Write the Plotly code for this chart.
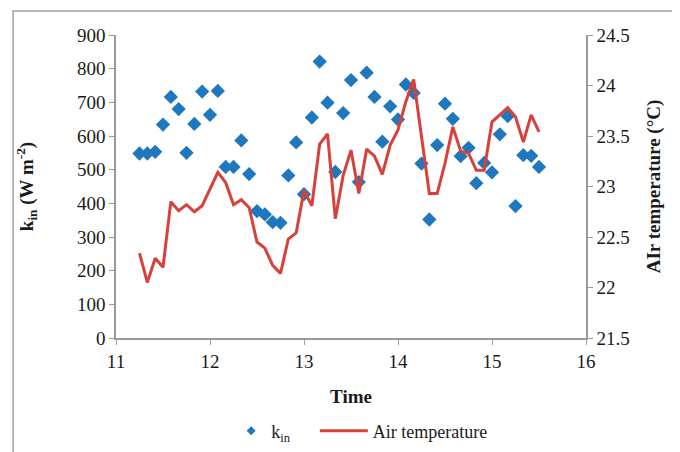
import plotly.graph_objects as go

time = [11.25 + i * 5 / 60 for i in range(52)]
time = [round(t, 4) for t in time]

k_in = [548, 548, 553, 634, 716, 680, 550, 636, 732, 663,
        734, 508, 508, 587, 487, 377, 367, 344, 342, 483,
        581, 427, 655, 821, 699, 493, 668, 766, 463, 788,
        716, 583, 688, 649, 753, 728, 518, 352, 573, 696,
        651, 540, 565, 460, 520, 492, 605, 659, 392, 543,
        541, 508]

air_temp = [22.34, 22.05, 22.29, 22.20, 22.85, 22.76, 22.82, 22.75, 22.81, 22.97,
            23.14, 23.04, 22.82, 22.87, 22.79, 22.45, 22.39, 22.22, 22.14, 22.48,
            22.54, 22.96, 22.81, 23.42, 23.52, 22.68, 23.11, 23.36, 22.93, 23.37,
            23.30, 23.12, 23.41, 23.56, 23.84, 24.06, 23.50, 22.93, 22.93, 23.23,
            23.59, 23.35, 23.33, 23.16, 23.16, 23.64, 23.71, 23.78, 23.69, 23.44,
            23.71, 23.54]

FONT = "Liberation Serif"
AXC = "#9a9a9a"
BLUE = "#1f78bd"
RED = "#d9403a"

fig = go.Figure()
fig.add_trace(go.Scatter(
    x=time, y=k_in, mode="markers", name="k<sub>in</sub>", showlegend=False,
    marker=dict(symbol="diamond", size=11, color=BLUE),
    yaxis="y"))
fig.add_trace(go.Scatter(
    x=time, y=air_temp, mode="lines", name="Air temperature", showlegend=False,
    line=dict(color=RED, width=3),
    yaxis="y2"))
# legend entries
fig.add_trace(go.Scatter(
    x=[None], y=[None], mode="markers", name="k<sub>in</sub>", legend="legend",
    marker=dict(symbol="diamond", size=7, color=BLUE), yaxis="y"))
fig.add_trace(go.Scatter(
    x=[None], y=[None], mode="lines", name="Air temperature", legend="legend2",
    line=dict(color=RED, width=3), yaxis="y2"))

fig.update_layout(
    width=680, height=452,
    margin=dict(l=108, r=102, t=27, b=122, autoexpand=False),
    paper_bgcolor="white", plot_bgcolor="white",
    font=dict(family=FONT, size=19, color="#1a1a1a"),
    showlegend=True,
    legend=dict(orientation="h", x=0.245, xanchor="left", y=-0.307, yanchor="middle",
                font=dict(size=18), itemwidth=30, bgcolor="rgba(0,0,0,0)"),
    legend2=dict(orientation="h", x=0.423, xanchor="left", y=-0.307, yanchor="middle",
                 font=dict(size=18), itemwidth=48, bgcolor="rgba(0,0,0,0)"),
    xaxis=dict(range=[11, 16], dtick=1, tick0=11, showgrid=False, zeroline=False,
               showline=True, linecolor=AXC, linewidth=1.5, automargin=False,
               ticks="outside", ticklen=5, tickcolor=AXC,
               title=dict(text="<b>Time</b>", standoff=19, font=dict(size=19))),
    yaxis=dict(range=[0, 900], dtick=100, showgrid=False, zeroline=False,
               showline=True, linecolor=AXC, linewidth=1.5, automargin=False,
               ticks="outside", ticklen=5, tickcolor=AXC,
               title=dict(text="<b>k<sub>in</sub> (W m<sup>-2</sup>)</b>", standoff=38,
                          font=dict(size=19))),
    yaxis2=dict(range=[21.5, 24.5], dtick=0.5, overlaying="y", side="right",
                showgrid=False, zeroline=False, automargin=False,
                showline=True, linecolor=AXC, linewidth=1.5,
                ticks="outside", ticklen=5, tickcolor=AXC,
                title=dict(text="<b>AIr temperature (°C)</b>", standoff=18,
                           font=dict(size=19))),
)

fig.add_shape(type="rect", xref="paper", yref="paper",
              x0=-0.219, y0=-2, x1=3, y1=1.079,
              line=dict(color="#a0a0a0", width=1.5), fillcolor="rgba(0,0,0,0)",
              layer="below")

fig.write_html("out.html")
